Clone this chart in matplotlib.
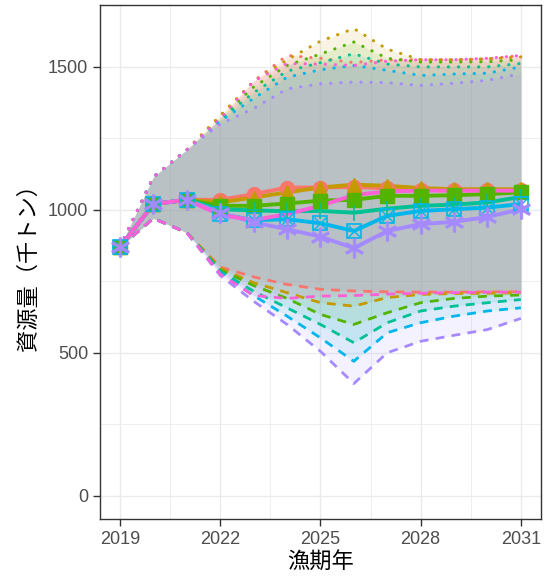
import matplotlib.pyplot as plt
import numpy as np

plt.rcParams['font.family'] = ['Liberation Sans', 'Noto Sans CJK JP', 'DejaVu Sans']

years = np.arange(2019, 2032)

# ggplot hue palette, 7 scenarios
colors = ['#F8766D', '#C49A00', '#53B400', '#00C094', '#00B6EB', '#A58AFF', '#FB61D7']
markers = ['o', '^', 's', '+', 'sx', '*', None]

# median biomass per scenario (thousand tonnes)
median = [
    [870, 1020, 1035, 1035, 1055, 1078, 1078, 1080, 1075, 1070, 1068, 1068, 1070],
    [870, 1020, 1035, 1026, 1043, 1061, 1078, 1088, 1084, 1076, 1072, 1072, 1072],
    [870, 1020, 1035, 1014, 1014, 1022, 1032, 1035, 1049, 1049, 1051, 1055, 1061],
    [870, 1020, 1035, 1002, 998, 995, 996, 990, 1004, 1014, 1018, 1026, 1045],
    [870, 1020, 1035, 985, 964, 967, 953, 926, 979, 996, 1002, 1008, 1020],
    [870, 1020, 1035, 990, 956, 932, 906, 866, 926, 950, 958, 975, 1002],
    [870, 1020, 1035, 982, 964, 985, 1014, 1052, 1064, 1067, 1067, 1067, 1067],
]

# upper bound (dotted)
upper = [
    [870, 1115, 1210, 1325, 1450, 1540, 1530, 1515, 1525, 1525, 1525, 1528, 1540],
    [870, 1115, 1210, 1330, 1450, 1525, 1590, 1634, 1562, 1525, 1525, 1528, 1535],
    [870, 1115, 1210, 1320, 1430, 1505, 1545, 1587, 1530, 1517, 1517, 1518, 1525],
    [870, 1115, 1210, 1315, 1410, 1485, 1515, 1546, 1510, 1500, 1500, 1500, 1512],
    [870, 1115, 1210, 1310, 1390, 1464, 1490, 1505, 1488, 1470, 1475, 1478, 1500],
    [870, 1115, 1210, 1300, 1355, 1423, 1441, 1447, 1445, 1435, 1443, 1453, 1476],
    [870, 1115, 1210, 1320, 1450, 1512, 1510, 1505, 1520, 1525, 1525, 1530, 1540],
]

# lower bound (dashed)
lower = [
    [870, 970, 920, 800, 765, 739, 722, 716, 713, 712, 712, 713, 713],
    [870, 970, 920, 795, 745, 710, 675, 663, 693, 704, 707, 708, 710],
    [870, 970, 920, 790, 735, 690, 634, 599, 640, 675, 690, 698, 702],
    [870, 970, 920, 785, 715, 657, 599, 535, 605, 646, 663, 675, 686],
    [870, 970, 920, 780, 700, 628, 552, 470, 570, 605, 628, 646, 657],
    [870, 970, 920, 770, 680, 599, 505, 392, 500, 540, 561, 581, 620],
    [870, 970, 920, 775, 700, 690, 698, 700, 705, 708, 710, 712, 712],
]

fig = plt.figure(figsize=(5.48, 5.81), dpi=100)
ax = fig.add_axes([0.1825, 0.1067, 0.8045, 0.8843])

for lo, hi, c in zip(lower, upper, colors):
    ax.fill_between(years, lo, hi, color=c, alpha=0.11, lw=0)

for lo, hi, c in zip(lower, upper, colors):
    ax.plot(years, hi, color=c, ls=(0, (0.1, 3.2)), lw=2.2,
            dash_capstyle='round')
    ax.plot(years, lo, color=c, ls=(0, (3.2, 2.6)), lw=2.0)

# median lines first, then points on top (as ggplot layers)
for med, c in zip(median, colors):
    ax.plot(years, med, color=c, lw=2.8)

for med, c, m in zip(median, colors, markers):
    if m == '+':
        ax.plot(years, med, ls='none', color=c, marker=m, ms=12, mew=1.2)
    elif m == '*':
        ax.plot(years, med, ls='none', color=c, marker='$\\ast$', ms=14, mew=0.5)
    elif m == 'sx':
        ax.plot(years, med, ls='none', color=c, marker='s', ms=10,
                mfc='none', mew=1.2)
        ax.plot(years, med, ls='none', color=c, marker='x', ms=8, mew=1.0)
    elif m is not None:
        ax.plot(years, med, ls='none', color=c, marker=m, ms=10)

ax.set_xlim(2018.4, 2031.6)
ax.set_ylim(-81.7, 1715.7)
ax.set_xticks([2019, 2022, 2025, 2028, 2031])
ax.set_xticks(np.arange(2020.5, 2031, 3), minor=True)
ax.set_yticks([0, 500, 1000, 1500])
ax.set_yticks([250, 750, 1250], minor=True)

ax.grid(which='major', color='#EBEBEB', lw=1.0)
ax.grid(which='minor', color='#EBEBEB', lw=0.6)
ax.set_axisbelow(True)
for s in ax.spines.values():
    s.set_color('#333333')
    s.set_linewidth(1.0)
ax.tick_params(which='major', length=5, color='#333333', labelsize=13,
               labelcolor='#4D4D4D', width=1.0)
ax.tick_params(which='minor', length=0)

ax.set_xlabel('漁期年', fontsize=16, labelpad=3)
ax.set_ylabel('資源量（千トン）', fontsize=16, labelpad=6)

fig.savefig('out.png', dpi=100)
